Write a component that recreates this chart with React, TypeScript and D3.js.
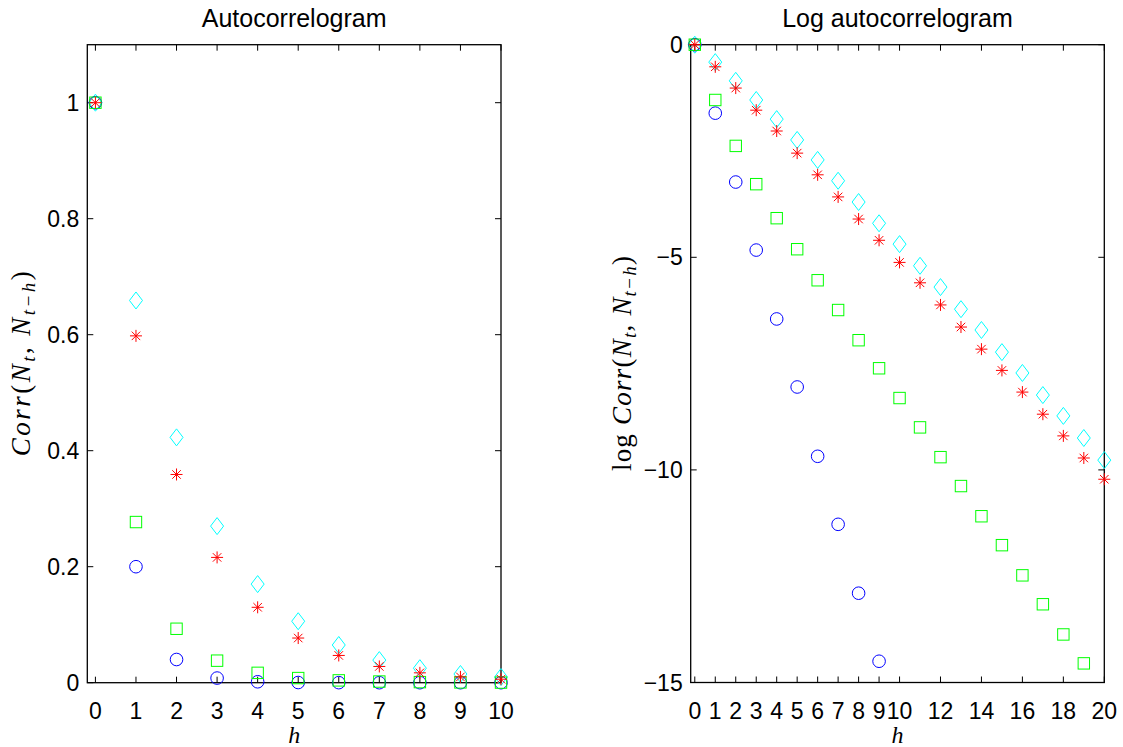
import React, { useRef, useEffect } from 'react';
import * as d3 from 'd3';

// lags
const lagsLin = d3.range(0, 11);
const lagsLog = d3.range(0, 21);

// Autocorrelogram values (h = 0..10)
const blueLin = [1, 0.2, 0.04, 0.008, 0.0016, 0.0003, 0.0001, 0, 0, 0, 0];
const greenLin = [1, 0.277, 0.093, 0.038, 0.017, 0.008, 0.004, 0.002, 0.001, 0.0005, 0.0002];
const redLin = [1, 0.598, 0.359, 0.216, 0.13, 0.077, 0.047, 0.028, 0.017, 0.01, 0.006];
const cyanLin = [1, 0.659, 0.423, 0.27, 0.17, 0.106, 0.065, 0.039, 0.025, 0.015, 0.0098];

// Log autocorrelogram values (h = 0..20)
const blueLog = [0, -1.61, -3.23, -4.83, -6.45, -8.05, -9.68, -11.28, -12.9, -14.5];
const greenLog = [0, -1.3, -2.38, -3.28, -4.08, -4.81, -5.54, -6.24, -6.95, -7.61, -8.31,
  -9.0, -9.7, -10.38, -11.09, -11.77, -12.48, -13.16, -13.87, -14.55];
const redLog = [0, -0.52, -1.02, -1.54, -2.03, -2.55, -3.06, -3.58, -4.1, -4.6, -5.12,
  -5.6, -6.12, -6.64, -7.16, -7.66, -8.17, -8.69, -9.2, -9.72, -10.22];
const cyanLog = [0, -0.41, -0.85, -1.3, -1.75, -2.24, -2.71, -3.2, -3.7, -4.2, -4.69,
  -5.2, -5.7, -6.22, -6.71, -7.23, -7.72, -8.24, -8.73, -9.25, -9.77];

const linYTicks = [0, 0.2, 0.4, 0.6, 0.8, 1];
const logYTicks = [0, -5, -10, -15];
const logXTicks = [0, 1, 2, 3, 4, 5, 6, 7, 8, 9, 10, 12, 14, 16, 18, 20];

const W = 1123;
const H = 747;
const SANS = 'Liberation Sans, Arial, sans-serif';
const SERIF = 'Liberation Serif, Times New Roman, serif';

type Series = { values: number[]; color: string; marker: string };

function drawMarker(g: any, x: number, y: number, marker: string, color: string) {
  if (marker === 'o') {
    g.append('circle').attr('cx', x).attr('cy', y).attr('r', 6.3)
      .attr('fill', 'none').attr('stroke', color).attr('stroke-width', 1);
  } else if (marker === 's') {
    g.append('rect').attr('x', x - 5.7).attr('y', y - 5.7).attr('width', 11.4).attr('height', 11.4)
      .attr('fill', 'none').attr('stroke', color).attr('stroke-width', 1);
  } else if (marker === 'd') {
    g.append('path')
      .attr('d', `M${x},${y - 8.5}L${x + 6.5},${y}L${x},${y + 8.5}L${x - 6.5},${y}Z`)
      .attr('fill', 'none').attr('stroke', color).attr('stroke-width', 1);
  } else {
    const r = 6;
    const d = r * 0.7071;
    g.append('path')
      .attr('d', `M${x - r},${y}L${x + r},${y}M${x},${y - r}L${x},${y + r}` +
        `M${x - d},${y - d}L${x + d},${y + d}M${x - d},${y + d}L${x + d},${y - d}`)
      .attr('fill', 'none').attr('stroke', color).attr('stroke-width', 1);
  }
}

function drawPanel(svg: any, opts: {
  left: number; right: number; top: number; bottom: number;
  xDomain: [number, number]; yDomain: [number, number];
  xTicks: number[]; yTicks: number[]; lags: number[];
  series: Series[]; title: string; yLabelX: number; yLabelLen: number; logLabel: boolean;
  yFmt: (v: number) => string;
}) {
  const { left, right, top, bottom } = opts;
  const x = d3.scaleLinear().domain(opts.xDomain).range([left, right]);
  const y = d3.scaleLinear().domain(opts.yDomain).range([bottom, top]);
  const g = svg.append('g');
  const tl = 6;

  // ticks (inward, mirrored)
  opts.xTicks.forEach((t) => {
    g.append('line').attr('x1', x(t)).attr('x2', x(t)).attr('y1', bottom).attr('y2', bottom - tl)
      .attr('stroke', '#000').attr('stroke-width', 1);
    g.append('line').attr('x1', x(t)).attr('x2', x(t)).attr('y1', top).attr('y2', top + tl)
      .attr('stroke', '#000').attr('stroke-width', 1);
    g.append('text').attr('x', x(t)).attr('y', bottom + 36)
      .attr('text-anchor', 'middle').attr('font-family', SANS).attr('font-size', 23)
      .text(String(t));
  });
  opts.yTicks.forEach((t) => {
    g.append('line').attr('x1', left).attr('x2', left + tl).attr('y1', y(t)).attr('y2', y(t))
      .attr('stroke', '#000').attr('stroke-width', 1);
    g.append('line').attr('x1', right).attr('x2', right - tl).attr('y1', y(t)).attr('y2', y(t))
      .attr('stroke', '#000').attr('stroke-width', 1);
    g.append('text').attr('x', left - 8).attr('y', y(t) + 8)
      .attr('text-anchor', 'end').attr('font-family', SANS).attr('font-size', 23)
      .text(opts.yFmt(t));
  });

  // frame
  g.append('rect').attr('x', left).attr('y', top).attr('width', right - left).attr('height', bottom - top)
    .attr('fill', 'none').attr('stroke', '#000').attr('stroke-width', 1.3);

  // markers
  const mg = g.append('g');
  opts.series.forEach((s) => {
    s.values.forEach((v, i) => {
      const h = opts.lags[i];
      drawMarker(mg, x(h), y(v), s.marker, s.color);
    });
  });

  // title
  g.append('text').attr('x', (left + right) / 2).attr('y', 27)
    .attr('text-anchor', 'middle').attr('font-family', SANS).attr('font-size', 25)
    .text(opts.title);

  // x label
  g.append('text').attr('x', (left + right) / 2).attr('y', 743)
    .attr('text-anchor', 'middle').attr('font-family', SERIF).attr('font-style', 'italic')
    .attr('font-size', 24).text('h');

  // y label
  const cy = (top + bottom) / 2;
  const lab = g.append('text')
    .attr('transform', `translate(${opts.yLabelX},${cy}) rotate(-90)`)
    .attr('text-anchor', 'middle').attr('font-family', SERIF).attr('font-size', 27)
    .attr('textLength', opts.yLabelLen).attr('lengthAdjust', 'spacing');
  if (opts.logLabel) lab.append('tspan').text('log ');
  lab.append('tspan').attr('font-style', 'italic').text('Corr');
  lab.append('tspan').text('(');
  lab.append('tspan').attr('font-style', 'italic').text('N');
  lab.append('tspan').attr('font-style', 'italic').attr('font-size', 19).attr('dy', 5).text('t');
  lab.append('tspan').attr('dy', -5).text(', ');
  lab.append('tspan').attr('font-style', 'italic').text('N');
  lab.append('tspan').attr('font-style', 'italic').attr('font-size', 19).attr('dy', 5).text('t−h');
  lab.append('tspan').attr('dy', -5).text(')');
}

export default function App() {
  const svgRef = useRef<SVGSVGElement>(null);

  useEffect(() => {
    document.body.style.margin = '0';
    const svg = d3.select(svgRef.current);
    svg.selectAll('*').remove();
    svg.append('rect').attr('width', W).attr('height', H).attr('fill', '#fff');

    drawPanel(svg, {
      left: 87.3, right: 501, top: 44.7, bottom: 682.7,
      xDomain: [-0.2, 10], yDomain: [0, 1.1],
      xTicks: lagsLin, yTicks: linYTicks, lags: lagsLin,
      series: [
        { values: cyanLin, color: '#00ffff', marker: 'd' },
        { values: blueLin, color: '#0000ff', marker: 'o' },
        { values: greenLin, color: '#00ff00', marker: 's' },
        { values: redLin, color: '#ff0000', marker: '*' },
      ],
      title: 'Autocorrelogram', yLabelX: 30, yLabelLen: 185, logLabel: false,
      yFmt: (v) => String(v),
    });

    drawPanel(svg, {
      left: 690.7, right: 1104.3, top: 44.7, bottom: 682.5,
      xDomain: [-0.2, 20], yDomain: [-15, 0],
      xTicks: logXTicks, yTicks: logYTicks, lags: lagsLog,
      series: [
        { values: cyanLog, color: '#00ffff', marker: 'd' },
        { values: blueLog, color: '#0000ff', marker: 'o' },
        { values: greenLog, color: '#00ff00', marker: 's' },
        { values: redLog, color: '#ff0000', marker: '*' },
      ],
      title: 'Log autocorrelogram', yLabelX: 631, yLabelLen: 215, logLabel: true,
      yFmt: (v) => (v < 0 ? '−' + Math.abs(v) : String(v)),
    });
  }, []);

  return <svg ref={svgRef} width={W} height={H} viewBox={`0 0 ${W} ${H}`} style={{ display: 'block' }} />;
}
